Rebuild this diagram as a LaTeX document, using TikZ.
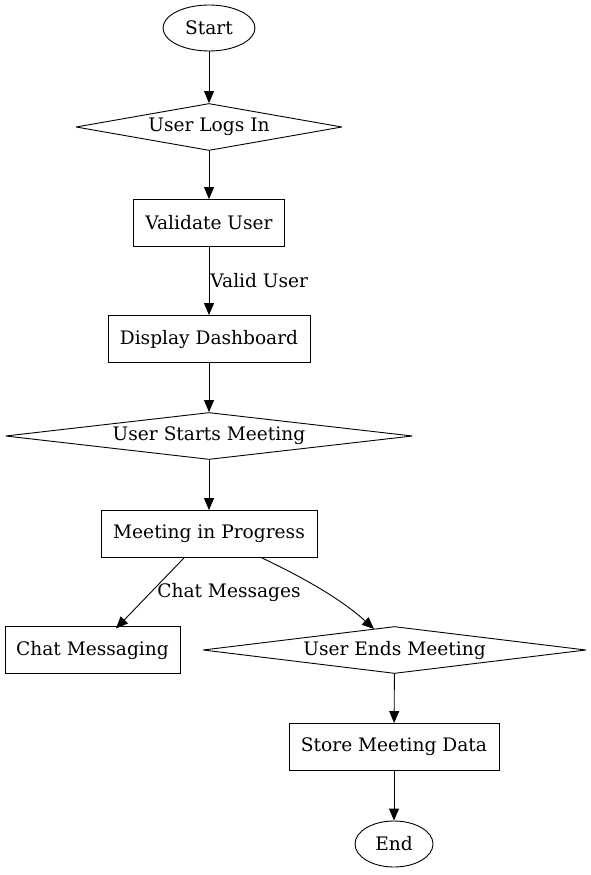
\documentclass[tikz,border=0pt]{standalone}
\usepackage{fontspec}
\setmainfont{DejaVu Serif}
\usetikzlibrary{shapes.geometric,arrows.meta}
\begin{document}
\begin{tikzpicture}[x=1pt,y=-1pt,
  every node/.style={font=\fontsize{18.6}{21}\selectfont},
  base/.style={draw,line width=0.9pt,inner sep=0pt},
  box/.style={base,rectangle,minimum height=47pt},
  term/.style={base,ellipse,minimum height=46pt},
  dec/.style={base,diamond,minimum height=47pt,miter limit=3},
  arr/.style={line width=0.9pt,-{Triangle[length=12pt,width=10pt]}},
  lbl/.style={fill=none,inner sep=1pt}]
\useasboundingbox (0,0) rectangle (590,875);
\node[term,minimum width=92pt] (start) at (209,28) {Start};
\node[dec,aspect=5.66,minimum width=266pt] (login) at (209,127) {User Logs In};
\node[box,minimum width=151pt] (valid) at (209,223) {Validate User};
\node[box,minimum width=202pt] (dash) at (209,339) {Display Dashboard};
\node[dec,aspect=8.66,minimum width=407pt] (startm) at (209,436) {User Starts Meeting};
\node[box,minimum width=216pt] (prog) at (209,534) {Meeting in Progress};
\node[box,minimum width=175pt] (chat) at (92.5,650) {Chat Messaging};
\node[dec,aspect=8.15,minimum width=383pt] (endm) at (394.5,650) {User Ends Meeting};
\node[box,minimum width=210pt] (store) at (394,747) {Store Meeting Data};
\node[term,minimum width=78pt] (end) at (394,844) {End};
\draw[arr] (start) -- (login);
\draw[arr] (login) -- (valid);
\draw[arr] (valid) -- node[lbl,anchor=west] {Valid User} (dash);
\draw[arr] (dash) -- (startm);
\draw[arr] (startm) -- (prog);
\draw[arr] (prog.south -| 184,0) -- (116,628.5);
\node[lbl] (chatlbl) at (229,592) {Chat Messages};
\draw[arr] (prog.south -| 262,0) .. controls (300,576) and (340,598) .. (374,629);
\draw[arr] (endm) -- (store);
\draw[arr] (store) -- (end);
\end{tikzpicture}
\end{document}
